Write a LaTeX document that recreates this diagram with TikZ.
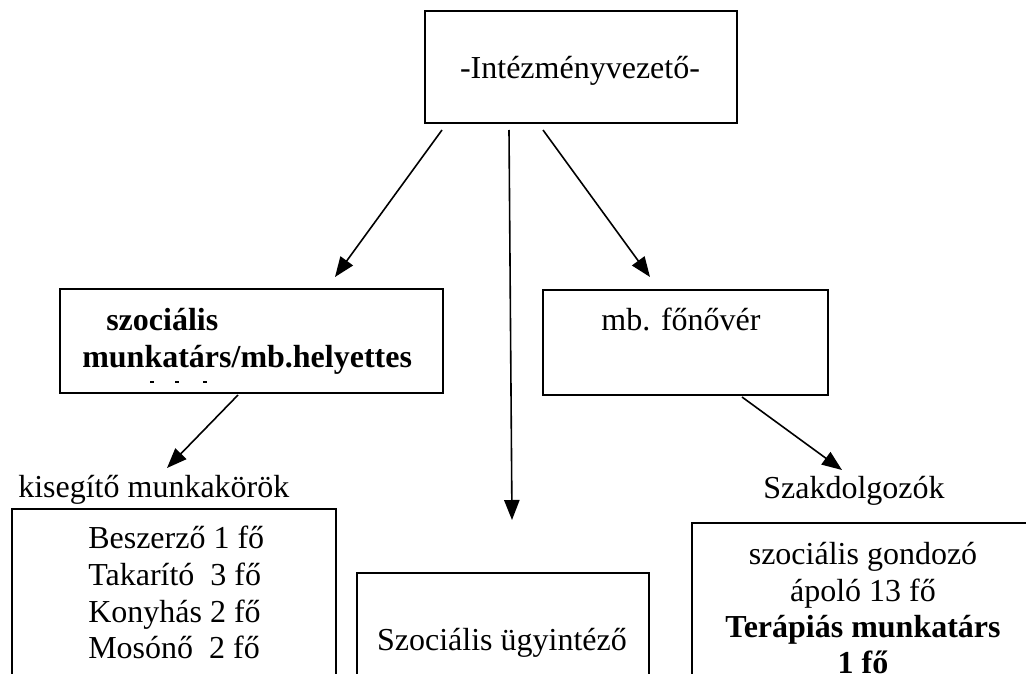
\documentclass[tikz,border=0pt]{standalone}
\usepackage{fontspec}
\setmainfont{Liberation Serif}
\usetikzlibrary{arrows.meta}
\begin{document}
\begin{tikzpicture}[x=0.75pt,y=-0.75pt,
  box/.style={draw,line width=1.4pt,inner sep=0pt,outer sep=0pt},
  txt/.style={inner sep=0pt,font=\fontsize{24}{27}\selectfont},
  btxt/.style={inner sep=0pt,font=\fontsize{24}{27}\selectfont\bfseries},
  conn/.style={line width=1.2pt,-{Triangle[length=15pt,width=11.5pt]}},
  tick/.style={line width=1.3pt}]
\useasboundingbox (0,0) rectangle (1026,674);
\clip (0,0) rectangle (1026,674);
\fill[white] (0,0) rectangle (1026,674);
% boxes
\node[box,minimum width=234pt,minimum height=84pt] (top) at (581,67) {};
\node[box,minimum width=287.25pt,minimum height=78pt] (helyettes) at (251.5,341) {};
\node[box,minimum width=213.75pt,minimum height=78.75pt] (fonover) at (685.5,342.5) {};
\node[box,minimum width=243pt,minimum height=143.25pt] (kiseg) at (174,604.5) {};
\node[box,minimum width=219pt,minimum height=95.25pt] (ugyint) at (503,636.5) {};
\node[box,minimum width=261pt,minimum height=132.75pt] (szak) at (866,611.5) {};
% texts
\node[txt,anchor=base] (ttop) at (580,79) {-Intézményvezető-};
\node[btxt,anchor=base west] (th1) at (106,330) {szociális};
\node[btxt,anchor=base west] (th2) at (82,367) {munkatárs/mb.helyettes};
\node[txt,anchor=base] (tf) at (681,330) {mb. főnővér};
\node[txt,anchor=base west] (lk) at (18,497) {kisegítő munkakörök};
\node[txt,anchor=base] (ls) at (854,498) {Szakdolgozók};
\node[txt,anchor=base west] (k1) at (88,548) {Beszerző 1 fő};
\node[txt,anchor=base west] (k2) at (88,585) {Takarító~ 3 fő};
\node[txt,anchor=base west] (k3) at (88,622) {Konyhás 2 fő};
\node[txt,anchor=base west] (k4) at (88,658) {Mosónő~ 2 fő};
\node[txt,anchor=base] (tu) at (502,650) {Szociális ügyintéző};
\node[txt,anchor=base] (s1) at (863,564) {szociális gondozó};
\node[txt,anchor=base] (s2) at (863,601) {ápoló 13 fő};
\node[btxt,anchor=base] (s3) at (863,637) {Terápiás munkatárs};
\node[btxt,anchor=base] (s4) at (863,673) {1 fő};
% small marks under the text
\draw[tick] (150,382) -- (154,382);
\draw[tick] (175,382) -- (179,382);
\draw[tick] (203,382) -- (207,382);
% connector ends
\coordinate (a1s) at (442,130); \coordinate (a1e) at (335,277);
\coordinate (a2s) at (509,130); \coordinate (a2e) at (512,520);
\coordinate (a3s) at (543,130); \coordinate (a3e) at (650,277);
\coordinate (a4s) at (238,395); \coordinate (a4e) at (167,468);
\coordinate (a5s) at (742,397); \coordinate (a5e) at (842,470);
\draw[conn] (a1s) -- (a1e);
\draw[conn] (a2s) -- (a2e);
\draw[conn] (a3s) -- (a3e);
\draw[conn] (a4s) -- (a4e);
\draw[conn] (a5s) -- (a5e);
\end{tikzpicture}
\end{document}
